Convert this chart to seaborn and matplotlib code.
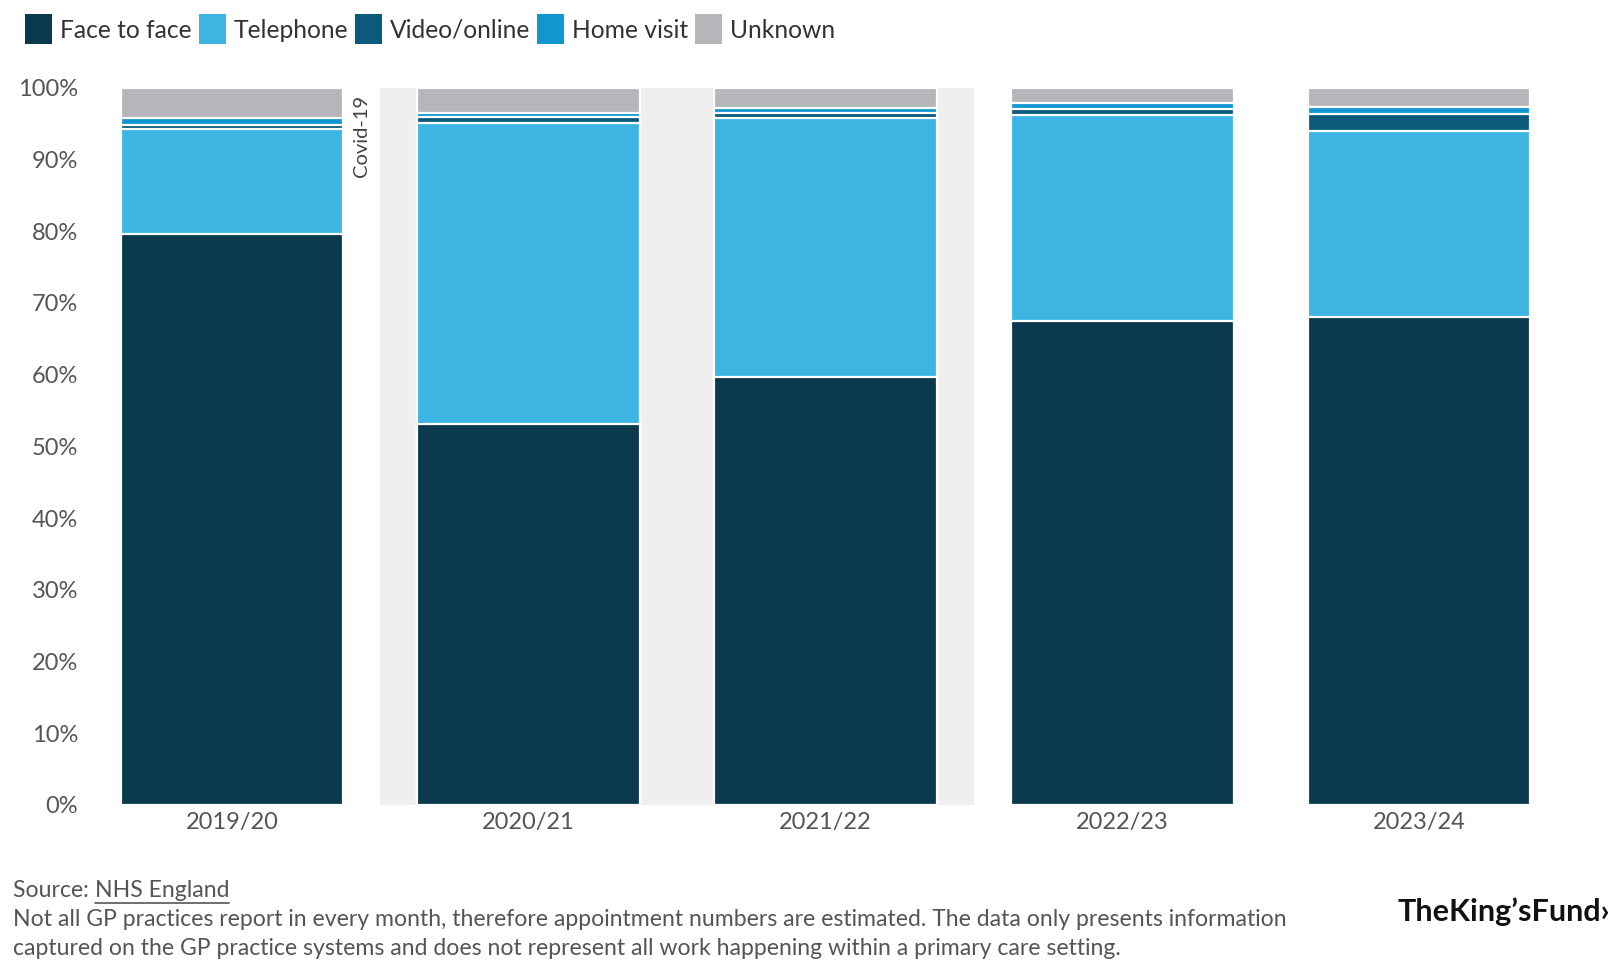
import matplotlib
matplotlib.use("Agg")
import matplotlib.pyplot as plt
import seaborn as sns
import numpy as np
import pandas as pd
from matplotlib.patches import Patch
from matplotlib.lines import Line2D

years = ["2019/20", "2020/21", "2021/22", "2022/23", "2023/24"]
series_names = ["Face to face", "Telephone", "Video/online", "Home visit", "Unknown"]
face_to_face = [79.6, 53.1, 59.6, 67.5, 68.0]
telephone = [14.6, 42.0, 36.1, 28.7, 25.9]
video_online = [0.6, 0.8, 0.7, 0.8, 2.4]
home_visit = [1.0, 0.6, 0.8, 0.8, 1.0]
unknown = [4.2, 3.5, 2.8, 2.2, 2.7]
y_ticks = [0, 10, 20, 30, 40, 50, 60, 70, 80, 90, 100]
colors = ["#0b3a4e", "#3cb5e2", "#0b5a7c", "#1197cf", "#b4b6b9"]

sns.set_theme(style="white")
plt.rcParams["font.family"] = ["Lato", "DejaVu Sans"]

fig = plt.figure(figsize=(16.16, 9.66), dpi=100)
ax = fig.add_axes([0.0517, 0.1667, 0.9183, 0.7426])

ax.axvspan(0.5, 2.5, color="#efefef", zorder=0, lw=0)

layers = [face_to_face, telephone, video_online, home_visit, unknown]
cum = np.cumsum(np.array(layers), axis=0)
for i in range(len(layers) - 1, -1, -1):
    df = pd.DataFrame({"year": years, "value": cum[i]})
    sns.barplot(data=df, x="year", y="value", color=colors[i], saturation=1,
                width=0.75, edgecolor="white", linewidth=1.6, ax=ax, zorder=2)

ax.set_xlim(-0.5, 4.5)
ax.set_ylim(0, 100)
ax.set_yticks(y_ticks)
ax.set_yticklabels([f"{t}%" for t in y_ticks])
ax.set_xlabel("")
ax.set_ylabel("")
for s in ax.spines.values():
    s.set_visible(False)
ax.tick_params(axis="both", length=0, labelsize=17, labelcolor="#555555")
ax.tick_params(axis="x", pad=5)
ax.tick_params(axis="y", pad=4)

ax.text(0.435, 99, "Covid-19", rotation=90, ha="center", va="top",
        fontsize=14.5, color="#444444", zorder=3)

handles = [Patch(facecolor=c, edgecolor="none") for c in colors]
fig.legend(handles, series_names, loc="upper left", bbox_to_anchor=(0.002, 1.008),
           ncol=5, frameon=False, fontsize=17.7, handlelength=1.1, handleheight=1.5,
           handletextpad=0.3, columnspacing=0.3, labelcolor="#333333")

fs = 16.6
src1 = fig.text(0.008, 0.071, "Source: ", fontsize=fs, color="#555555", va="baseline")
fig.canvas.draw()
r = fig.canvas.get_renderer()
bb = src1.get_window_extent(r)
x2 = bb.x1 / fig.bbox.width
src2 = fig.text(x2, 0.071, "NHS England", fontsize=fs, color="#555555", va="baseline")
fig.canvas.draw()
bb2 = src2.get_window_extent(r)
fig.add_artist(Line2D([bb2.x0 / fig.bbox.width, bb2.x1 / fig.bbox.width], [0.065, 0.065],
                      color="#555555", lw=1.2))
fig.text(0.008, 0.041,
         "Not all GP practices report in every month, therefore appointment numbers are estimated. The data only presents information",
         fontsize=fs, color="#555555", va="baseline")
fig.text(0.008, 0.011,
         "captured on the GP practice systems and does not represent all work happening within a primary care setting.",
         fontsize=fs, color="#555555", va="baseline")
fig.text(0.996, 0.047, "TheKing\u2019sFund\u203a", fontsize=22, fontweight="bold",
         color="#111111", ha="right", va="baseline")

fig.savefig("out.png", dpi=100)
